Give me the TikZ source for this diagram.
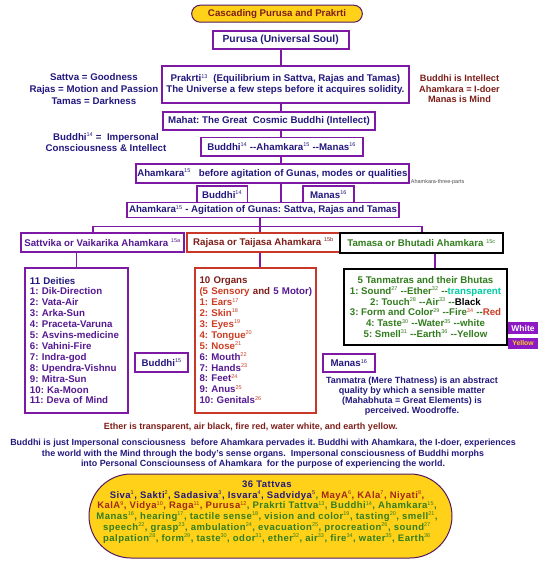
\documentclass[tikz,border=0pt]{standalone}
\usepackage{fontspec}
\setmainfont{Liberation Sans}
\usepackage{xcolor}
\usepackage{tikz}
\usetikzlibrary{calc}
\frenchspacing

\definecolor{boxpurple}{RGB}{125,25,165}
\definecolor{txtnavy}{RGB}{35,25,125}
\definecolor{txtpurple}{RGB}{85,25,145}
\definecolor{boxred}{RGB}{200,55,40}
\definecolor{txtred}{RGB}{205,60,35}
\definecolor{txtmaroon}{RGB}{125,30,25}
\definecolor{txtbrick}{RGB}{160,40,20}
\definecolor{txtgreen}{RGB}{50,125,30}
\definecolor{txtcyan}{RGB}{0,205,165}
\definecolor{pillyellow}{RGB}{255,210,25}
\definecolor{pilledge}{RGB}{85,25,95}
\definecolor{swatch}{RGB}{140,25,195}

\newcommand{\supx}[1]{\textsuperscript{\normalfont\fontsize{5.5}{6}\selectfont #1}}

\begin{document}
\begin{tikzpicture}[x=1pt, y=-1pt, line width=1.8pt,
    font=\bfseries\fontsize{9.7}{11}\selectfont,
    pbox/.style={draw=boxpurple, fill=white, inner sep=1pt, text=txtnavy},
    rbox/.style={pbox, draw=boxred},
    kbox/.style={pbox, draw=black},
    link/.style={draw=boxpurple},
    note/.style={align=center, inner sep=0pt},
    pill/.style={draw=pilledge, fill=pillyellow, line width=1pt},
    swatchbox/.style={fill=swatch, inner sep=0pt}]
    \useasboundingbox (0,0) rectangle (545,563);
    \node[pill, rounded corners=8.5, minimum width=170.7, minimum height=17, text=txtmaroon] (title) at (277,13.7) {Cascading Purusa and Prakrti};
    \node[pbox, minimum width=136, minimum height=18, font=\bfseries\fontsize{10.3}{12}\selectfont] (purusa) at (280.7,39.6) {Purusa (Universal Soul)};
    \node[pbox, minimum width=247.5, minimum height=37, align=center] (prakrti) at (285.4,84.6) {Prakrti\supx{13}\ \ (Equilibrium in Sattva, Rajas and Tamas)\\The Universe a few steps before it acquires solidity.};
    \node[note, text=txtnavy, font=\bfseries\fontsize{9.7}{11.8}\selectfont] (gunas) at (93.9,89) {Sattva = Goodness\\Rajas = Motion and Passion\\Tamas = Darkness};
    \node[note, text=txtmaroon, font=\bfseries\fontsize{9.2}{10.9}\selectfont] (roles) at (459.5,88.8) {Buddhi is Intellect\\Ahamkara = I-doer\\Manas is Mind};
    \node[pbox, minimum width=212.7, minimum height=18] (mahat) at (269,121.2) {Mahat: The Great\ \ Cosmic Buddhi (Intellect)};
    \node[pbox, minimum width=162, minimum height=18.8] (bam) at (281.6,146.9) {Buddhi\supx{14} -{}-Ahamkara\supx{15} -{}-Manas\supx{16}};
    \node[note, text=txtnavy, font=\bfseries\fontsize{9.7}{11.1}\selectfont] (buddhinote) at (106,142) {Buddhi\supx{14} =\ \ Impersonal\\Consciousness \& Intellect};
    \node[pbox, minimum width=273.5, minimum height=19] (before) at (272.4,173.8) {Ahamkara\supx{15}\ \ \ before agitation of Gunas, modes or qualities};
    \node[anchor=west, inner sep=0pt, font=\fontsize{5.5}{6}\selectfont, text=black!70] (threeparts) at (410,182.4) {Ahamkara-three-parts};
    \node[pbox, minimum width=50.8, minimum height=16.5] (buddhiA) at (222.1,194.5) {Buddhi\supx{14}};
    \node[pbox, minimum width=50.8, minimum height=16.5] (manasA) at (328.5,194.5) {Manas\supx{16}};
    \node[pbox, minimum width=272.6, minimum height=15] (agit) at (263,210) {Ahamkara\supx{15}\ - Agitation of Gunas: Sattva, Rajas and Tamas};
    \node[pbox, text=txtpurple, minimum width=163, minimum height=19] (sattvika) at (102.5,242.5) {Sattvika or Vaikarika Ahamkara\ \supx{15a}};
    \node[rbox, text=txtmaroon, minimum width=153, minimum height=19] (rajasa) at (263.5,242.5) {Rajasa or Taijasa Ahamkara\ \supx{15b}};
    \node[kbox, text=txtgreen, minimum width=163, minimum height=20] (tamasa) at (421.5,243) {Tamasa or Bhutadi Ahamkara\ \supx{15c}};
    \node[pbox, text=txtpurple, minimum width=103, minimum height=145, text width=93, align=left, font=\bfseries\fontsize{9.7}{10.9}\selectfont] (deities) at (76.5,340.5) {\textcolor{txtnavy}{11 Deities}\\1: Dik-Direction\\2: Vata-Air\\3: Arka-Sun\\4: Praceta-Varuna\\5: Asvins-medicine\\6: Vahini-Fire\\7: Indra-god\\8: Upendra-Vishnu\\9: Mitra-Sun\\10: Ka-Moon\\11: Deva of Mind};
    \node[rbox, text=txtpurple, minimum width=121, minimum height=145, text width=112, align=left, font=\bfseries\fontsize{9.7}{10.9}\selectfont] (organs) at (255.5,340.5) {\textcolor{txtmaroon}{10 Organs}\\\mbox{\textcolor{txtred}{(5 Sensory} \textcolor{txtmaroon}{and} 5 Motor)}\\\textcolor{txtred}{1: Ears\supx{17}}\\\textcolor{txtred}{2: Skin\supx{18}}\\\textcolor{txtred}{3: Eyes\supx{19}}\\\textcolor{txtred}{4: Tongue\supx{20}}\\\textcolor{txtred}{5: Nose\supx{21}}\\6: Mouth\textcolor{txtred}{\supx{22}}\\7: Hands\textcolor{txtred}{\supx{23}}\\8: Feet\textcolor{txtred}{\supx{24}}\\9: Anus\textcolor{txtred}{\supx{25}}\\10: Genitals\textcolor{txtred}{\supx{26}}};
    \node[kbox, line width=2.4pt, text=txtgreen, minimum width=163, minimum height=76, align=center, font=\bfseries\fontsize{9.7}{10.8}\selectfont] (tanmatra) at (425.5,307) {5 Tanmatras and their Bhutas\\1: Sound\supx{27} -{}-Ether\supx{32} -{}-\textcolor{txtcyan}{transparent}\\2: Touch\supx{28} -{}-Air\supx{33} -{}-\textcolor{black}{Black}\\3: Form and Color\supx{29} -{}-Fire\textcolor{txtred}{\supx{34}} -{}-\textcolor{txtred}{Red}\\4: Taste\supx{30} -{}-Water\supx{35} -{}-white\\5: Smell\supx{31} -{}-Earth\supx{36} -{}-Yellow};
    \node[swatchbox, minimum width=30, minimum height=12, text=white, font=\bfseries\fontsize{8.5}{9}\selectfont] (white) at (523,328.3) {White};
    \node[swatchbox, minimum width=30, minimum height=11, text=pillyellow, font=\bfseries\fontsize{6.8}{7}\selectfont] (yellow) at (523,343.3) {Yellow};
    \node[pbox, minimum width=53, minimum height=18.5] (buddhiB) at (161.7,362.5) {Buddhi\supx{15}};
    \node[pbox, minimum width=52, minimum height=18] (manasB) at (349,363) {Manas\supx{16}};
    \node[note, text=txtnavy, font=\bfseries\fontsize{9}{10}\selectfont] (tanmatranote) at (412,396) {Tanmatra (Mere Thatness) is an abstract\\quality by which a sensible matter\\(Mahabhuta = Great Elements) is\\perceived. Woodroffe.};
    \node[note, text=txtmaroon, font=\bfseries\fontsize{9}{10}\selectfont] (ethernote) at (250.8,427) {Ether is transparent, air black, fire red, water white, and earth yellow.};
    \node[note, text=txtnavy, font=\bfseries\fontsize{8.9}{10.45}\selectfont] (para) at (263,454) {Buddhi is just Impersonal consciousness\ \ before Ahamkara pervades it. Buddhi with Ahamkara, the I-doer, experiences\\the world with the Mind through the body's sense organs.\ \ Impersonal consciousness of Buddhi morphs\\into Personal Consciounsess of Ahamkara\ \ for the purpose of experiencing the world.};
    \node[pill, rounded corners=42, minimum width=363, minimum height=84] (tattvas) at (270.5,516) {};
    \node[note, text=txtgreen, font=\bfseries\fontsize{9.5}{10.8}\selectfont\addfontfeature{LetterSpace=5}] (tattvalist) at (267,512) {\textcolor{txtnavy}{36 Tattvas}\\
        \textcolor{txtnavy}{Siva\supx{1}, Sakti\supx{2}, Sadasiva\supx{3}, Isvara\supx{4}, Sadvidya\supx{5}}, \textcolor{txtbrick}{MayA\supx{6}, KAla\supx{7}, Niyati\supx{8},}\\
        \textcolor{txtbrick}{KalA\supx{9}, Vidya\supx{10}, Raga\supx{11}, Purusa\supx{12}}, Prakrti Tattva\supx{13}, Buddhi\supx{14}, Ahamkara\supx{15},\\
        Manas\supx{16}, hearing\supx{17}, tactile sense\supx{18}, vision and color\supx{19}, tasting\supx{20}, smell\supx{21},\\
        speech\supx{22}, grasp\supx{23}, ambulation\supx{24}, evacuation\supx{25}, procreation\supx{26}, sound\supx{27}\\
        palpation\supx{28}, form\supx{29}, taste\supx{30}, odor\supx{31}, ether\supx{32}, air\supx{33}, fire\supx{34}, water\supx{35}, Earth\supx{36}};
    \coordinate (forkL) at (93,226.5);
    \coordinate (forkM) at (260,226.5);
    \coordinate (forkR) at (422,226.5);
    \draw[link] (purusa.south) -- (purusa.south |- prakrti.north);
    \draw[link] (prakrti.south -| purusa.south) -- (mahat.north -| purusa.south);
    \draw[link] (mahat.south -| purusa.south) -- (bam.north -| purusa.south);
    \draw[link] (bam.south -| purusa.south) -- (before.north -| purusa.south);
    \draw[link] (before.south -| purusa.south) -- (agit.north -| purusa.south);
    \draw[link] (agit.south -| forkM) -- (forkM);
    \draw[link] (forkL |- sattvika.north) -- (forkL) -- (forkR) -- (forkR |- tamasa.north);
    \draw[link] (forkM) -- (forkM |- rajasa.north);
    \draw[link] (sattvika.south -| deities.north) -- (deities.north);
    \draw[link] (rajasa.south -| forkM) -- (organs.north -| forkM);
    \draw[link] ([xshift=13.5pt]tamasa.south) -- ([xshift=13.5pt]tamasa.south |- tanmatra.north);
\end{tikzpicture}
\end{document}
